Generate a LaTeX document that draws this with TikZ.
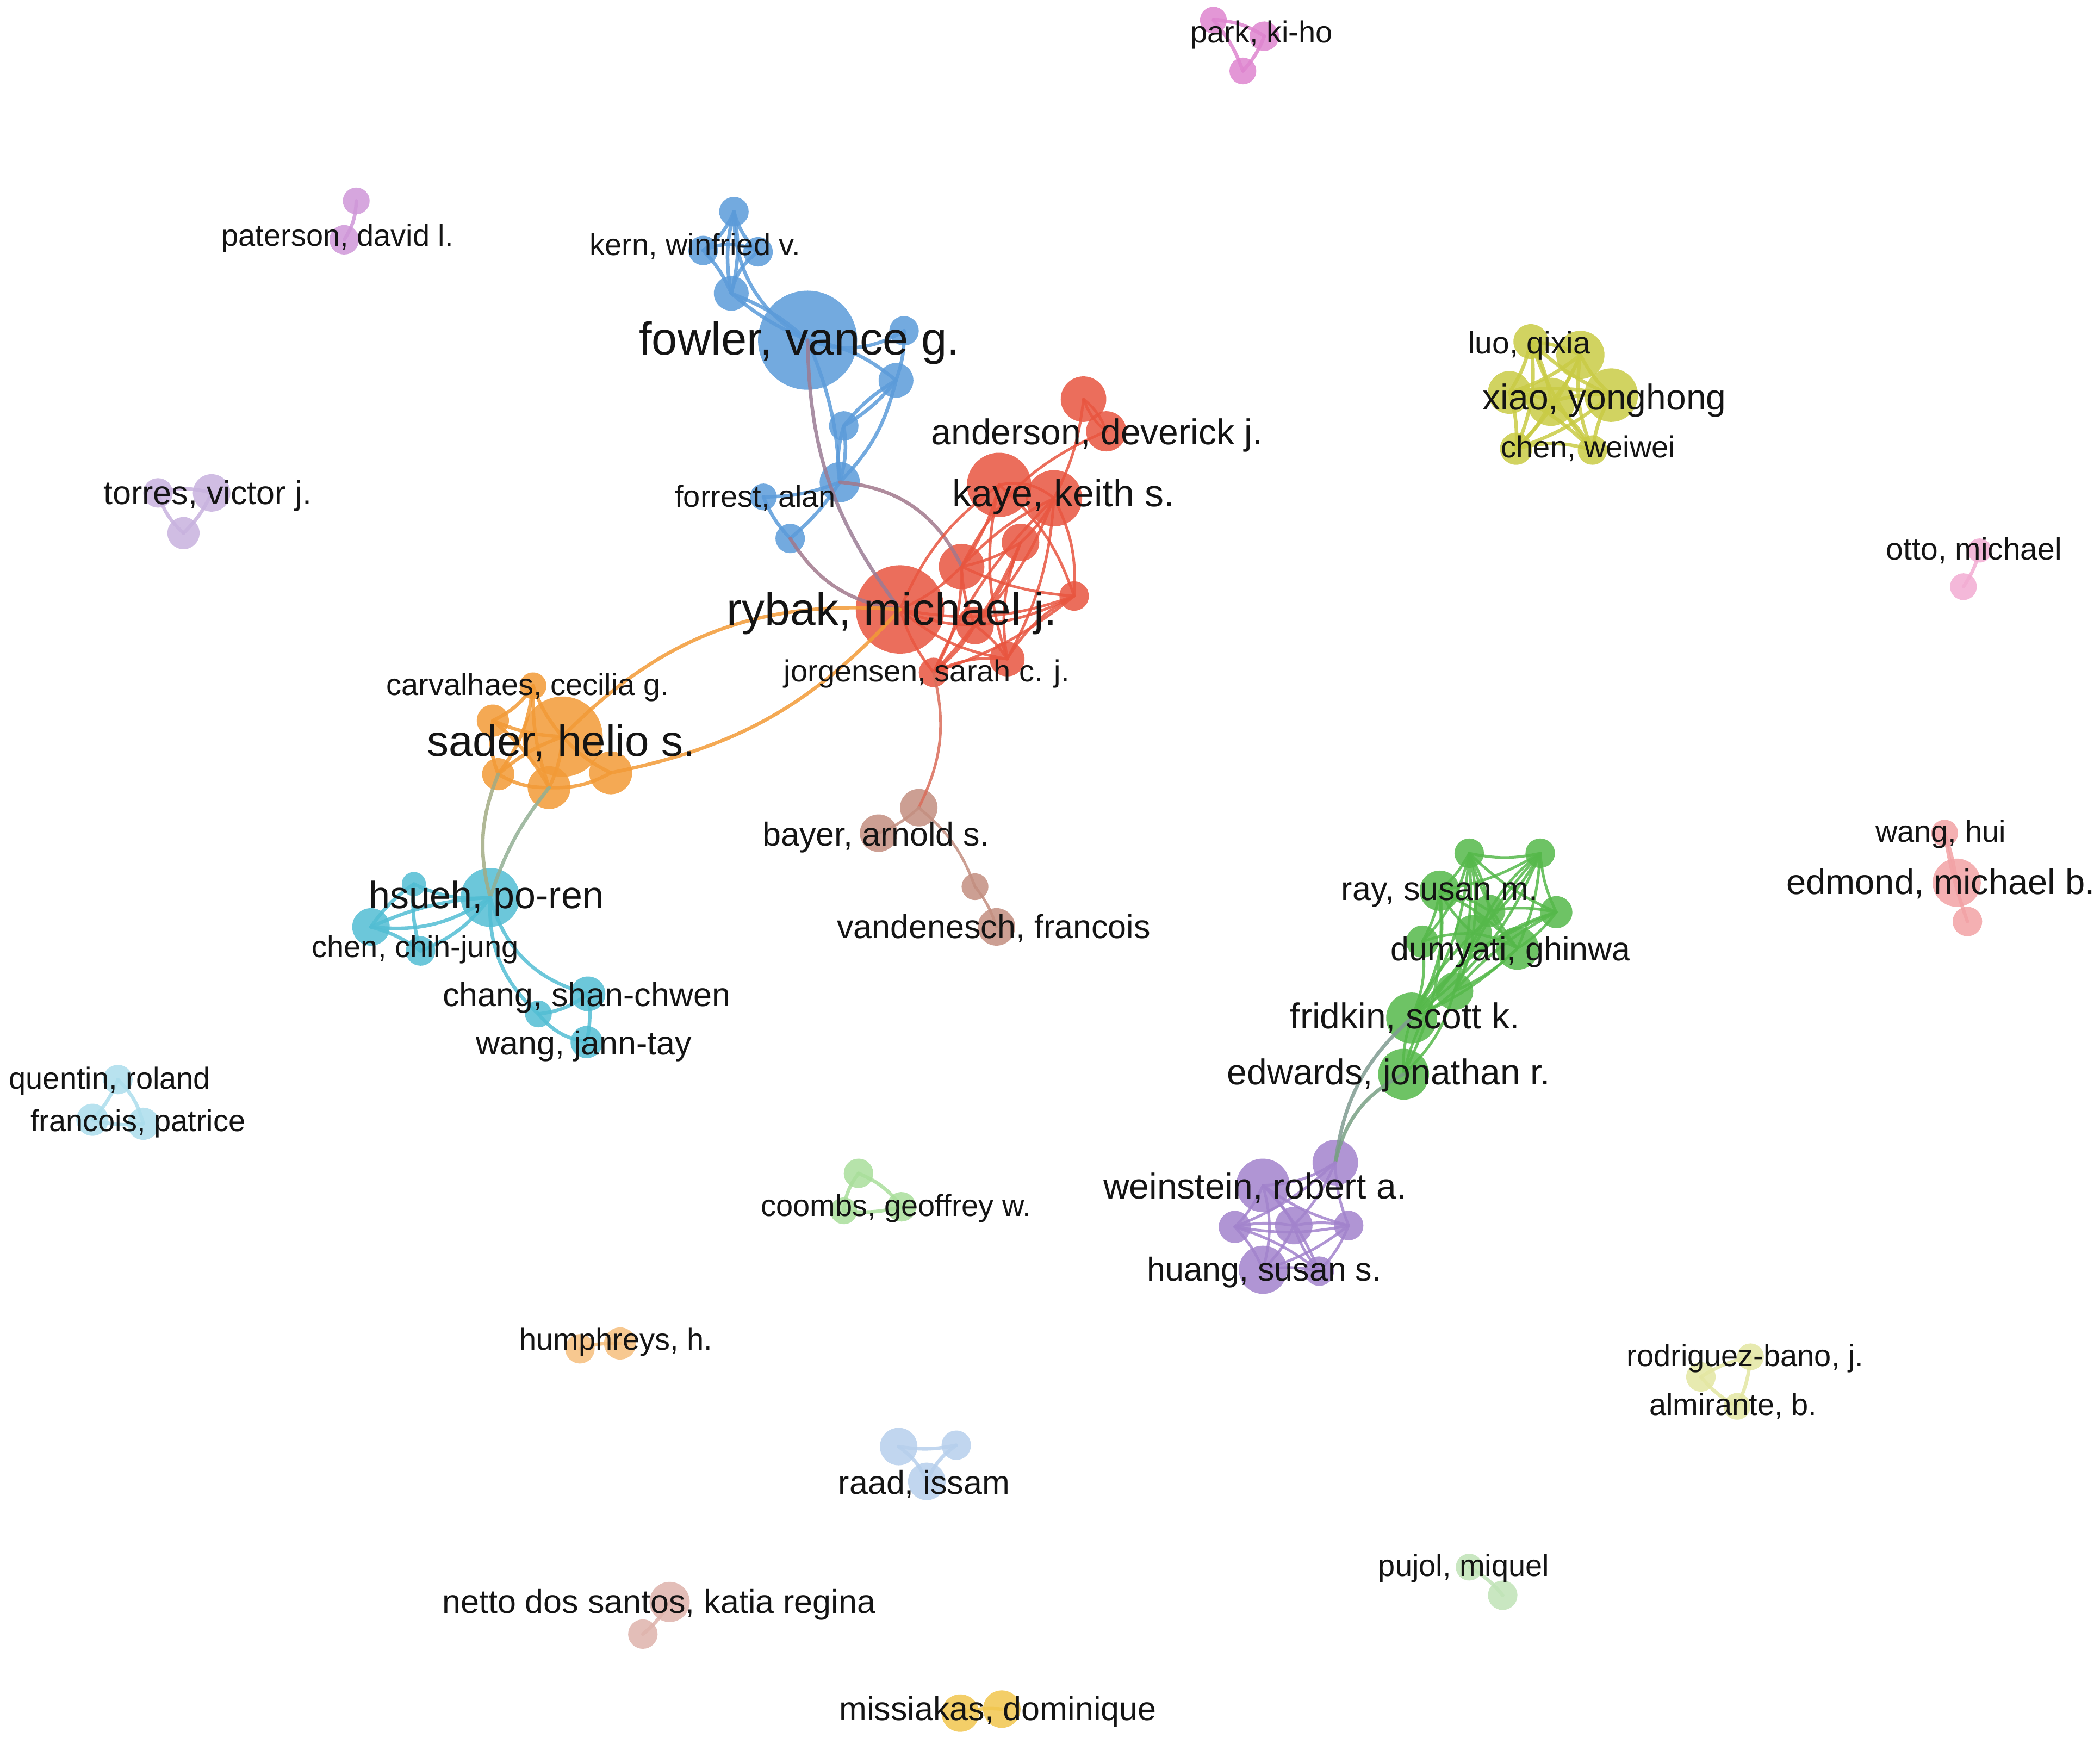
\documentclass[tikz,border=0pt]{standalone}
\usepackage{fontspec}
\setmainfont{Liberation Sans}
\definecolor{cB}{HTML}{5B9BD9}
\definecolor{cR}{HTML}{E8553F}
\definecolor{cO}{HTML}{F29A36}
\definecolor{cC}{HTML}{52BDD3}
\definecolor{cN}{HTML}{C38E80}
\definecolor{cG}{HTML}{55B84A}
\definecolor{cP}{HTML}{A283CC}
\definecolor{cY}{HTML}{C9CB45}
\definecolor{cK}{HTML}{DE85CF}
\definecolor{cT}{HTML}{CF97D8}
\definecolor{cV}{HTML}{C8B2DE}
\definecolor{cQ}{HTML}{F2ACD2}
\definecolor{cE}{HTML}{F2A2A5}
\definecolor{cQn}{HTML}{ACDDEC}
\definecolor{cCo}{HTML}{A9DE9B}
\definecolor{cHm}{HTML}{F6BE7D}
\definecolor{cRa}{HTML}{B6CFEC}
\definecolor{cRd}{HTML}{E3E6A2}
\definecolor{cPj}{HTML}{BFE3B6}
\definecolor{cNt}{HTML}{DEB3AC}
\definecolor{cM}{HTML}{F1C64E}
\tikzset{
  au/.style={circle, inner sep=0pt, minimum size=#1*4.926pt, fill opacity=0.85},
  lnk/.style={draw=#1, line width=6.5pt, draw opacity=0.85, line cap=round},
  thin/.style={line width=5pt},
  lab/.style={inner sep=0pt, text=black!92, font={\fontsize{#1pt}{#1pt}\selectfont}}
}
\begin{document}
\begin{tikzpicture}[x=2.463pt,y=-2.463pt]
\useasboundingbox (0,0) rectangle (1568,1302);
% ---------------- nodes: blue
\node[au=37,fill=cB] (B1) at (603,254) {};
\node[au=11,fill=cB] (B2) at (548,158) {};
\node[au=11,fill=cB] (B3) at (525,187) {};
\node[au=11,fill=cB] (B4) at (566,188) {};
\node[au=13,fill=cB] (B5) at (546,219) {};
\node[au=11,fill=cB] (B6) at (675,247) {};
\node[au=13,fill=cB] (B7) at (669,284) {};
\node[au=11,fill=cB] (B8) at (630,318) {};
\node[au=15,fill=cB] (B9) at (627,360) {};
\node[au=10,fill=cB] (B10) at (570,371) {};
\node[au=11,fill=cB] (B11) at (590,402) {};
% red
\node[au=33,fill=cR] (R1) at (672,455) {};
\node[au=17,fill=cR] (R2) at (809,298) {};
\node[au=15,fill=cR] (R3) at (826,322) {};
\node[au=24,fill=cR] (R4) at (746,362) {};
\node[au=21,fill=cR] (R5) at (787,372) {};
\node[au=14,fill=cR] (R6) at (762,405) {};
\node[au=17,fill=cR] (R7) at (718,423) {};
\node[au=11,fill=cR] (R8) at (802,445) {};
\node[au=14,fill=cR] (R9) at (728,467) {};
\node[au=13,fill=cR] (R10) at (752,492) {};
\node[au=11,fill=cR] (R11) at (697,502) {};
% orange
\node[au=30,fill=cO] (O1) at (420,550) {};
\node[au=10,fill=cO] (O2) at (398,512) {};
\node[au=12,fill=cO] (O3) at (368,538) {};
\node[au=12,fill=cO] (O4) at (372,578) {};
\node[au=16,fill=cO] (O5) at (410,588) {};
\node[au=16,fill=cO] (O6) at (456,577) {};
% cyan
\node[au=22,fill=cC] (H1) at (366,670) {};
\node[au=9,fill=cC] (H2) at (309,660) {};
\node[au=14,fill=cC] (H3) at (277,692) {};
\node[au=11,fill=cC] (H4) at (314,710) {};
\node[au=13,fill=cC] (H5) at (439,742) {};
\node[au=10,fill=cC] (H6) at (402,757) {};
\node[au=12,fill=cC] (H7) at (438,778) {};
% brown
\node[au=14,fill=cN] (N1) at (686,603) {};
\node[au=14,fill=cN] (N2) at (656,622) {};
\node[au=10,fill=cN] (N3) at (728,662) {};
\node[au=14,fill=cN] (N4) at (744,692) {};
% green
\node[au=11,fill=cG] (G1) at (1097,637) {};
\node[au=11,fill=cG] (G2) at (1150,637) {};
\node[au=15,fill=cG] (G3) at (1075,665) {};
\node[au=12,fill=cG] (G4) at (1112,680) {};
\node[au=12,fill=cG] (G5) at (1162,681) {};
\node[au=12,fill=cG] (G6) at (1062,703) {};
\node[au=14,fill=cG] (G7) at (1100,697) {};
\node[au=16,fill=cG] (G8) at (1133,708) {};
\node[au=14,fill=cG] (G9) at (1086,740) {};
\node[au=19,fill=cG] (G10) at (1054,760) {};
\node[au=19,fill=cG] (G11) at (1048,802) {};
% purple
\node[au=20,fill=cP] (P1) at (943,885) {};
\node[au=17,fill=cP] (P2) at (997,868) {};
\node[au=12,fill=cP] (P3) at (922,916) {};
\node[au=14,fill=cP] (P4) at (966,915) {};
\node[au=11,fill=cP] (P5) at (1007,915) {};
\node[au=18,fill=cP] (P6) at (943,948) {};
\node[au=11,fill=cP] (P7) at (985,949) {};
% yellow
\node[au=13,fill=cY] (Y1) at (1143,255) {};
\node[au=18,fill=cY] (Y2) at (1180,265) {};
\node[au=16,fill=cY] (Y3) at (1127,293) {};
\node[au=18,fill=cY] (Y4) at (1158,300) {};
\node[au=20,fill=cY] (Y5) at (1203,295) {};
\node[au=12,fill=cY] (Y6) at (1132,335) {};
\node[au=11,fill=cY] (Y7) at (1189,336) {};
% small clusters
\node[au=10,fill=cK] (K1) at (906,15) {};
\node[au=11,fill=cK] (K2) at (944,27) {};
\node[au=10,fill=cK] (K3) at (928,53) {};
\node[au=10,fill=cT] (T1) at (266,150) {};
\node[au=11,fill=cT] (T2) at (257,179) {};
\node[au=11,fill=cV] (V1) at (118,368) {};
\node[au=14,fill=cV] (V2) at (158,368) {};
\node[au=12,fill=cV] (V3) at (137,398) {};
\node[au=9,fill=cQ] (Q1) at (1478,411) {};
\node[au=10,fill=cQ] (Q2) at (1466,438) {};
\node[au=10,fill=cE] (E1) at (1452,622) {};
\node[au=18,fill=cE] (E2) at (1461,659) {};
\node[au=11,fill=cE] (E3) at (1469,688) {};
\node[au=11,fill=cQn] (U1) at (88,806) {};
\node[au=12,fill=cQn] (U2) at (69,836) {};
\node[au=12,fill=cQn] (U3) at (107,839) {};
\node[au=11,fill=cCo] (C1) at (641,876) {};
\node[au=10,fill=cCo] (C2) at (630,904) {};
\node[au=11,fill=cCo] (C3) at (673,901) {};
\node[au=11,fill=cHm] (M1) at (433,1007) {};
\node[au=12,fill=cHm] (M2) at (463,1003) {};
\node[au=14,fill=cRa] (A1) at (671,1080) {};
\node[au=11,fill=cRa] (A2) at (714,1079) {};
\node[au=14,fill=cRa] (A3) at (692,1106) {};
\node[au=10,fill=cRd] (D1) at (1307,1013) {};
\node[au=11,fill=cRd] (D2) at (1270,1028) {};
\node[au=10,fill=cRd] (D3) at (1297,1050) {};
\node[au=10,fill=cPj] (J1) at (1097,1170) {};
\node[au=11,fill=cPj] (J2) at (1122,1191) {};
\node[au=15,fill=cNt] (S1) at (500,1196) {};
\node[au=11,fill=cNt] (S2) at (480,1220) {};
\node[au=14,fill=cM] (W1) at (717,1279) {};
\node[au=14,fill=cM] (W2) at (748,1276) {};
% ---------------- links
\foreach \a/\b/\c in {B2/B3/15,B2/B4/-15,B2/B5/12,B2/B5/-12,B3/B4/25,B3/B5/10,B4/B5/-20,B2/B1/-30,
  B5/B1/10,B5/B1/-8,B1/B6/-25,B6/B7/10,B1/B7/15,B7/B8/10,B7/B8/-10,B8/B9/12,B8/B9/-12,B7/B9/15,
  B1/B9/10,B9/B10/10,B10/B11/-10,B9/B11/8}
  \draw[lnk=cB] (\a.center) to[bend left=\c] (\b.center);
\draw[lnk=cB!55!cR] (B1.center) to[bend right=18] (R1.center);
\draw[lnk=cB!50!cR] (B11.center) to[bend right=25] (R1.center);
\draw[lnk=cB!50!cR] (B9.center) to[bend left=30] (R7.center);
\foreach \a/\b/\c in {R2/R3/15,R2/R3/-15,R3/R7/-20,R2/R5/10,R4/R5/25,R4/R7/10,R4/R10/-15,R5/R6/10,
  R5/R7/-10,R5/R8/15,R5/R9/10,R5/R11/-10,R6/R7/10,R6/R9/10,R6/R10/-15,R7/R1/10,R7/R9/-10,R7/R11/15,
  R7/R8/-10,R8/R1/15,R8/R9/10,R8/R10/-15,R8/R11/10,R1/R9/-10,R1/R10/-15,R1/R11/-10,R9/R10/10,
  R9/R11/10,R10/R11/-15,R4/R8/15,R5/R10/12,R6/R11/10,R4/R1/-15}
  \draw[lnk=cR, thin] (\a.center) to[bend left=\c] (\b.center);
\foreach \a/\b/\c in {O1/O2/10,O1/O3/10,O1/O4/-10,O1/O5/10,O1/O6/-10,O2/O3/15,O2/O5/-10,O3/O4/-15,
  O3/O5/10,O4/O5/-15,O5/O6/-15,O2/O4/15}
  \draw[lnk=cO] (\a.center) to[bend left=\c] (\b.center);
\draw[lnk=cO] (O1.center) to[bend left=25] (R1.center);
\draw[lnk=cO] (O6.center) to[bend right=18] (R1.center);
\draw[lnk=cO!50!cC] (O4.center) to[bend right=18] (H1.center);
\draw[lnk=cO!40!cC] (O5.center) to[bend right=10] (H1.center);
\foreach \a/\b/\c in {H1/H2/15,H1/H3/20,H1/H3/-10,H1/H4/15,H2/H3/-10,H2/H4/-10,H3/H4/10,
  H1/H5/-30,H1/H6/-25,H5/H6/15,H5/H7/10,H6/H7/-20}
  \draw[lnk=cC] (\a.center) to[bend left=\c] (\b.center);
\draw[lnk=cR!60!cN, thin] (R11.center) to[bend left=20] (N1.center);
\foreach \a/\b/\c in {N1/N2/10,N1/N3/15,N3/N4/10}
  \draw[lnk=cN, thin] (\a.center) to[bend left=\c] (\b.center);
\foreach \a/\b/\c in {G1/G2/-12,G1/G3/10,G1/G4/10,G1/G5/-10,G1/G6/15,G1/G7/10,G1/G8/-10,G1/G9/10,
  G1/G10/15,G2/G3/10,G2/G4/-10,G2/G5/-10,G2/G7/10,G2/G8/10,G2/G9/-10,G2/G10/15,G3/G4/10,G3/G6/10,
  G3/G7/-10,G3/G8/10,G3/G10/20,G4/G5/10,G4/G7/10,G4/G8/-10,G4/G10/10,G5/G8/10,G5/G9/-10,
  G5/G10/-15,G6/G7/10,G6/G10/15,G7/G8/10,G7/G9/10,G7/G10/-10,G8/G9/10,G8/G10/10,G9/G10/10,
  G11/G10/10,G11/G9/-15,G11/G3/-15,G5/G11/-30}
  \draw[lnk=cG, thin] (\a.center) to[bend left=\c] (\b.center);
\draw[lnk=cG!45!cP] (G10.center) to[bend right=20] (P2.center);
\draw[lnk=cG!55!cP] (G11.center) to[bend right=25] (P2.center);
\foreach \a/\b/\c in {P1/P2/-15,P1/P3/10,P1/P4/10,P1/P5/-10,P1/P6/15,P1/P7/10,P2/P3/10,P2/P4/10,
  P2/P5/-10,P3/P4/10,P3/P6/10,P3/P7/10,P4/P5/10,P4/P6/10,P4/P7/-10,P5/P6/10,P5/P7/10,P6/P7/10,P3/P5/-10}
  \draw[lnk=cP, thin] (\a.center) to[bend left=\c] (\b.center);
\foreach \a/\b/\c in {Y1/Y2/10,Y1/Y3/10,Y1/Y4/10,Y1/Y5/-10,Y1/Y6/15,Y1/Y7/-10,Y2/Y3/10,Y2/Y4/10,
  Y2/Y5/-10,Y2/Y6/10,Y2/Y7/-15,Y3/Y4/10,Y3/Y5/10,Y3/Y6/10,Y3/Y7/10,Y4/Y5/10,Y4/Y6/10,Y4/Y7/10,
  Y5/Y6/10,Y5/Y7/-10,Y6/Y7/15}
  \draw[lnk=cY] (\a.center) to[bend left=\c] (\b.center);
\draw[lnk=cK] (K1.center) to[bend left=15] (K2.center);
\draw[lnk=cK] (K1.center) to[bend left=10] (K3.center);
\draw[lnk=cK] (K2.center) to[bend left=10] (K3.center);
\draw[lnk=cT] (T1.center) to[bend left=15] (T2.center);
\draw[lnk=cV] (V1.center) to[bend left=15] (V2.center);
\draw[lnk=cV] (V1.center) to[bend right=15] (V3.center);
\draw[lnk=cV] (V2.center) to[bend left=10] (V3.center);
\draw[lnk=cQ] (Q1.center) to[bend left=10] (Q2.center);
\draw[lnk=cE] (E1.center) to[bend left=5] (E2.center);
\draw[lnk=cE] (E1.center) to[bend right=5] (E3.center);
\draw[lnk=cQn] (U1.center) to[bend left=10] (U2.center);
\draw[lnk=cQn] (U1.center) to[bend left=15] (U3.center);
\draw[lnk=cQn] (U2.center) to[bend right=10] (U3.center);
\draw[lnk=cCo] (C1.center) to[bend right=15] (C2.center);
\draw[lnk=cCo] (C1.center) to[bend left=15] (C3.center);
\draw[lnk=cCo] (C2.center) to[bend right=10] (C3.center);
\draw[lnk=cHm] (M1.center) to[bend left=10] (M2.center);
\draw[lnk=cRa] (A1.center) to[bend right=10] (A2.center);
\draw[lnk=cRa] (A1.center) to[bend left=15] (A3.center);
\draw[lnk=cRa] (A2.center) to[bend right=15] (A3.center);
\draw[lnk=cRd] (D1.center) to[bend right=10] (D2.center);
\draw[lnk=cRd] (D1.center) to[bend left=10] (D3.center);
\draw[lnk=cRd] (D2.center) to[bend right=10] (D3.center);
\draw[lnk=cPj] (J1.center) to[bend left=10] (J2.center);
\draw[lnk=cNt] (S1.center) to[bend left=10] (S2.center);
\draw[lnk=cM] (W1.center) to[bend left=10] (W2.center);
% ---------------- labels
\node[lab=85] (lB1) at (597,256) {fowler, vance g.};
\node[lab=56] (lB3) at (519,184) {kern, winfried v.};
\node[lab=56] (lB10) at (564,372) {forrest, alan};
\node[lab=84] (lR1) at (666,458) {rybak, michael j.};
\node[lab=66] (lR2) at (819,325) {anderson, deverick j.};
\node[lab=70] (lR4) at (794,371) {kaye, keith s.};
\node[lab=56] (lR11) at (692,503) {jorgensen, sarah c. j.};
\node[lab=56] (lO2) at (394,513) {carvalhaes, cecilia g.};
\node[lab=80] (lO1) at (419,555) {sader, helio s.};
\node[lab=70] (lH1) at (363,671) {hsueh, po-ren};
\node[lab=56] (lH4) at (310,709) {chen, chih-jung};
\node[lab=61] (lH5) at (438,745) {chang, shan-chwen};
\node[lab=61] (lH7) at (436,781) {wang, jann-tay};
\node[lab=61] (lN2) at (654,625) {bayer, arnold s.};
\node[lab=61] (lN4) at (742,693) {vandenesch, francois};
\node[lab=61] (lG3) at (1075,668) {ray, susan m.};
\node[lab=61] (lG8) at (1128,711) {dumyati, ghinwa};
\node[lab=66] (lG10) at (1049,760) {fridkin, scott k.};
\node[lab=66] (lG11) at (1037,803) {edwards, jonathan r.};
\node[lab=66] (lP1) at (937,887) {weinstein, robert a.};
\node[lab=61] (lP6) at (944,950) {huang, susan s.};
\node[lab=57] (lY1) at (1142,258) {luo, qixia};
\node[lab=66] (lY5) at (1198,299) {xiao, yonghong};
\node[lab=56] (lY7) at (1186,335) {chen, weiwei};
\node[lab=56] (lK2) at (942,26) {park, ki-ho};
\node[lab=56] (lT2) at (252,178) {paterson, david l.};
\node[lab=61] (lV2) at (155,370) {torres, victor j.};
\node[lab=57] (lQ1) at (1474,411) {otto, michael};
\node[lab=56] (lE1) at (1449,623) {wang, hui};
\node[lab=65] (lE2) at (1449,660) {edmond, michael b.};
\node[lab=56] (lU1) at (82,807) {quentin, roland};
\node[lab=56] (lU3) at (103,839) {francois, patrice};
\node[lab=56] (lC3) at (669,902) {coombs, geoffrey w.};
\node[lab=56] (lM2) at (460,1002) {humphreys, h.};
\node[lab=61] (lA3) at (690,1108) {raad, issam};
\node[lab=56] (lD1) at (1303,1014) {rodriguez-bano, j.};
\node[lab=56] (lD3) at (1294,1050) {almirante, b.};
\node[lab=56] (lJ1) at (1093,1171) {pujol, miquel};
\node[lab=61] (lS1) at (492,1198) {netto dos santos, katia regina};
\node[lab=61] (lW2) at (745,1278) {missiakas, dominique};
\end{tikzpicture}
\end{document}
